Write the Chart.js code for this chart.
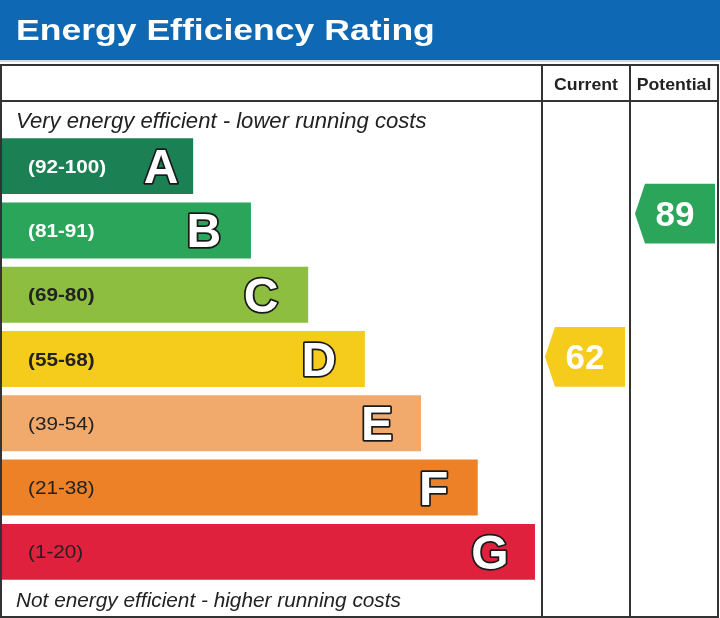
<!DOCTYPE html>
<html>
<head>
<meta charset="utf-8">
<script src="https://cdn.jsdelivr.net/npm/chart.js@4/dist/chart.umd.min.js"></script>
<style>
html,body{margin:0;padding:0;background:#fff;}
#wrap{width:720px;height:618px;}
</style>
</head>
<body>
<div id="wrap"><canvas id="c" width="720" height="618"></canvas></div>
<script>
// ---- data ----
const bands = ['A', 'B', 'C', 'D', 'E', 'F', 'G'];
const bandMin = [92, 81, 69, 55, 39, 21, 1];
const bandMax = [100, 91, 80, 68, 54, 38, 20];
const barLengths = [35.4, 46.1, 56.7, 67.2, 77.6, 88.1, 98.7]; // % of the left column
const currentRating = 62;
const potentialRating = 89;
const columnHeaders = ['Current', 'Potential'];
const title = 'Energy Efficiency Rating';
const topNote = 'Very energy efficient - lower running costs';
const bottomNote = 'Not energy efficient - higher running costs';

// ---- styles ----
const bandColors = ['#1b8154', '#2aa55a', '#8dbe40', '#f5cb1c', '#f1a96c', '#ec8127', '#e0213e'];
const rangeTextColors = ['#ffffff', '#ffffff', '#222222', '#222222', '#222222', '#222222', '#222222'];
const rangeBold = [true, true, true, true, false, false, false];
const letterInset = [32, 47, 47, 46, 44, 44, 45];
const FONT = '"Liberation Sans", Arial, sans-serif';

const rangeLabels = bands.map((b, i) => '(' + bandMin[i] + '-' + bandMax[i] + ')');

function stretchText(ctx, txt, x, y, sx, align) {
  ctx.save();
  const w = ctx.measureText(txt).width * sx;
  let left = x;
  if (align === 'center') left = x - w / 2;
  else if (align === 'right') left = x - w;
  ctx.translate(left, y);
  ctx.scale(sx, 1);
  ctx.textAlign = 'left';
  ctx.fillText(txt, 0, 0);
  ctx.restore();
}

const COL1 = 542, COL2 = 630, RIGHT = 718, TOP = 65, HEADLINE = 101, BOTTOM = 617, LEFT = 1;

const epcPlugin = {
  id: 'epc',
  beforeDraw(chart) {
    const ctx = chart.ctx;
    ctx.save();
    ctx.fillStyle = '#ffffff';
    ctx.fillRect(0, 0, chart.width, chart.height);
    ctx.fillStyle = '#0e68b3';
    ctx.fillRect(0, 0, chart.width, 60);
    ctx.fillStyle = '#c9dcee';
    ctx.fillRect(0, 60, chart.width, 2);
    ctx.fillStyle = '#ffffff';
    ctx.font = 'bold 30px ' + FONT;
    ctx.textBaseline = 'alphabetic';
    stretchText(ctx, title, 16, 40, 1.185, 'left');
    ctx.restore();
  },
  afterDatasetsDraw(chart) {
    const ctx = chart.ctx;
    const meta = chart.getDatasetMeta(0);
    ctx.save();
    ctx.textBaseline = 'alphabetic';
    meta.data.forEach((el, i) => {
      const cy = el.y;
      ctx.fillStyle = rangeTextColors[i];
      ctx.font = (rangeBold[i] ? 'bold ' : '') + '18px ' + FONT;
      stretchText(ctx, rangeLabels[i], 28, cy + 6.5, 1.15, 'left');
      ctx.font = 'bold 48px ' + FONT;
      ctx.textAlign = 'center';
      ctx.lineJoin = 'round';
      ctx.lineWidth = 3.5;
      ctx.strokeStyle = '#1a1a1a';
      const lx = el.x - letterInset[i];
      const ly = cy + 17;
      ctx.strokeText(bands[i], lx, ly);
      ctx.fillStyle = '#ffffff';
      ctx.fillText(bands[i], lx, ly);
    });
    ctx.fillStyle = '#222222';
    ctx.textAlign = 'left';
    ctx.font = 'italic 22.1px ' + FONT;
    ctx.fillText(topNote, 16, 128);
    ctx.font = 'italic 20.8px ' + FONT;
    ctx.fillText(bottomNote, 16, 607);
    const drawArrow = (value, left, right) => {
      const bi = bands.findIndex((b, i) => value >= bandMin[i] && value <= bandMax[i]);
      const el = meta.data[bi];
      const top = el.y - el.height / 2, bot = el.y + el.height / 2;
      const y = bot - (value - bandMin[bi]) / (bandMax[bi] - bandMin[bi]) * (bot - top);
      const h = el.height + 4;
      ctx.fillStyle = bandColors[bi];
      ctx.beginPath();
      ctx.moveTo(left, y);
      ctx.lineTo(left + 10, y - h / 2);
      ctx.lineTo(right, y - h / 2);
      ctx.lineTo(right, y + h / 2);
      ctx.lineTo(left + 10, y + h / 2);
      ctx.closePath();
      ctx.fill();
      ctx.fillStyle = '#ffffff';
      ctx.font = 'bold 35px ' + FONT;
      ctx.textAlign = 'center';
      ctx.fillText(String(value), (left + right) / 2, y + 12.5);
    };
    drawArrow(currentRating, COL1 + 3, COL2 - 5);
    drawArrow(potentialRating, COL2 + 5, RIGHT - 3);
    ctx.restore();
  },
  afterDraw(chart) {
    const ctx = chart.ctx;
    ctx.save();
    ctx.strokeStyle = '#333333';
    ctx.lineWidth = 2;
    ctx.strokeRect(LEFT, TOP, RIGHT - LEFT, BOTTOM - TOP);
    ctx.beginPath();
    ctx.moveTo(LEFT, HEADLINE); ctx.lineTo(RIGHT, HEADLINE);
    ctx.moveTo(COL1, TOP); ctx.lineTo(COL1, BOTTOM);
    ctx.moveTo(COL2, TOP); ctx.lineTo(COL2, BOTTOM);
    ctx.stroke();
    ctx.fillStyle = '#222222';
    ctx.font = 'bold 17px ' + FONT;
    ctx.textBaseline = 'alphabetic';
    stretchText(ctx, columnHeaders[0], (COL1 + COL2) / 2, 90, 1.04, 'center');
    stretchText(ctx, columnHeaders[1], (COL2 + RIGHT) / 2, 90, 1.04, 'center');
    ctx.restore();
  }
};

new Chart(document.getElementById('c'), {
  type: 'bar',
  data: {
    labels: bands,
    datasets: [{
      data: barLengths,
      backgroundColor: bandColors,
      borderWidth: 0,
      barPercentage: 0.87,
      categoryPercentage: 1.0
    }]
  },
  options: {
    indexAxis: 'y',
    responsive: false,
    animation: false,
    devicePixelRatio: 1,
    layout: { padding: { left: 2, right: 720 - COL1, top: 134, bottom: 34 } },
    scales: {
      x: { display: false, min: 0, max: 100 },
      y: { display: false }
    },
    plugins: { legend: { display: false }, tooltip: { enabled: false } }
  },
  plugins: [epcPlugin]
});
</script>
</body>
</html>
